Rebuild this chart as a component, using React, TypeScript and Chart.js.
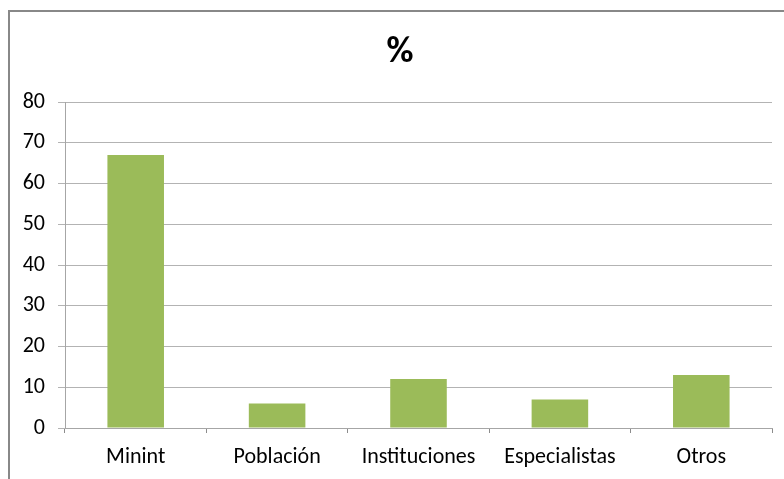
import React, { useEffect, useRef } from "react";
import { Chart, registerables } from "chart.js";

Chart.register(...registerables);

const categories = ["Minint", "Población", "Instituciones", "Especialistas", "Otros"];
const values = [67, 6, 12, 7, 13];
const yTicksMax = 80;
const yStep = 10;
const titleText = "%";

const FONT = "Carlito, 'Liberation Sans', Arial, sans-serif";

const borderPlugin = {
  id: "outerBorder",
  beforeDraw(chart: any) {
    const ctx = chart.ctx;
    ctx.save();
    ctx.fillStyle = "#ffffff";
    ctx.fillRect(0, 0, chart.width, chart.height);
    ctx.strokeStyle = "#888888";
    ctx.lineWidth = 2;
    ctx.beginPath();
    ctx.moveTo(9, chart.height + 5);
    ctx.lineTo(9, 11);
    ctx.lineTo(chart.width + 5, 11);
    ctx.stroke();
    ctx.restore();
  },
  afterDraw(chart: any) {
    const ctx = chart.ctx;
    ctx.save();
    ctx.fillStyle = "#000000";
    ctx.font = `bold 37px ${FONT}`;
    ctx.textAlign = "center";
    ctx.textBaseline = "middle";
    ctx.fillText(titleText, 400, 53);
    ctx.restore();
  },
};

export default function App() {
  const ref = useRef<HTMLCanvasElement | null>(null);
  useEffect(() => {
    if (!ref.current) return;
    const chart = new Chart(ref.current, {
      type: "bar",
      data: {
        labels: categories,
        datasets: [
          {
            data: values,
            backgroundColor: "#9BBB59",
            borderWidth: 0,
            barPercentage: 0.4,
            categoryPercentage: 1,
          },
        ],
      },
      options: {
        animation: false,
        responsive: false,
        maintainAspectRatio: false,
        layout: { padding: { left: 10, right: 12, top: 102, bottom: 0 } },
        plugins: {
          legend: { display: false },
          tooltip: { enabled: false },
          title: { display: false },
        },
        scales: {
          x: {
            grid: {
              offset: true,
              drawOnChartArea: false,
              drawTicks: true,
              tickLength: 5,
              color: "#8c8c8c",
            },
            border: { display: true, color: "#a6a6a6", width: 1 },
            ticks: {
              color: "#000000",
              font: { family: FONT, size: 22 },
              padding: 11,
              maxRotation: 0,
            },
            afterFit(scale: any) {
              scale.height = 51;
            },
          },
          y: {
            min: 0,
            max: yTicksMax,
            ticks: {
              stepSize: yStep,
              color: "#000000",
              font: { family: FONT, size: 22 },
              padding: 13,
            },
            grid: {
              color: "#b3b3b3",
              tickLength: 7,
              drawTicks: true,
            },
            border: { display: true, color: "#a6a6a6", width: 1 },
            afterFit(scale: any) {
              scale.width = 55;
            },
          },
        },
      },
      plugins: [borderPlugin],
    });
    return () => chart.destroy();
  }, []);
  return (
    <div style={{ position: "fixed", left: 0, top: 0, width: 784, height: 479, background: "#fff" }}>
      <canvas ref={ref} width={784} height={479} style={{ display: "block", width: 784, height: 479 }} />
    </div>
  );
}
